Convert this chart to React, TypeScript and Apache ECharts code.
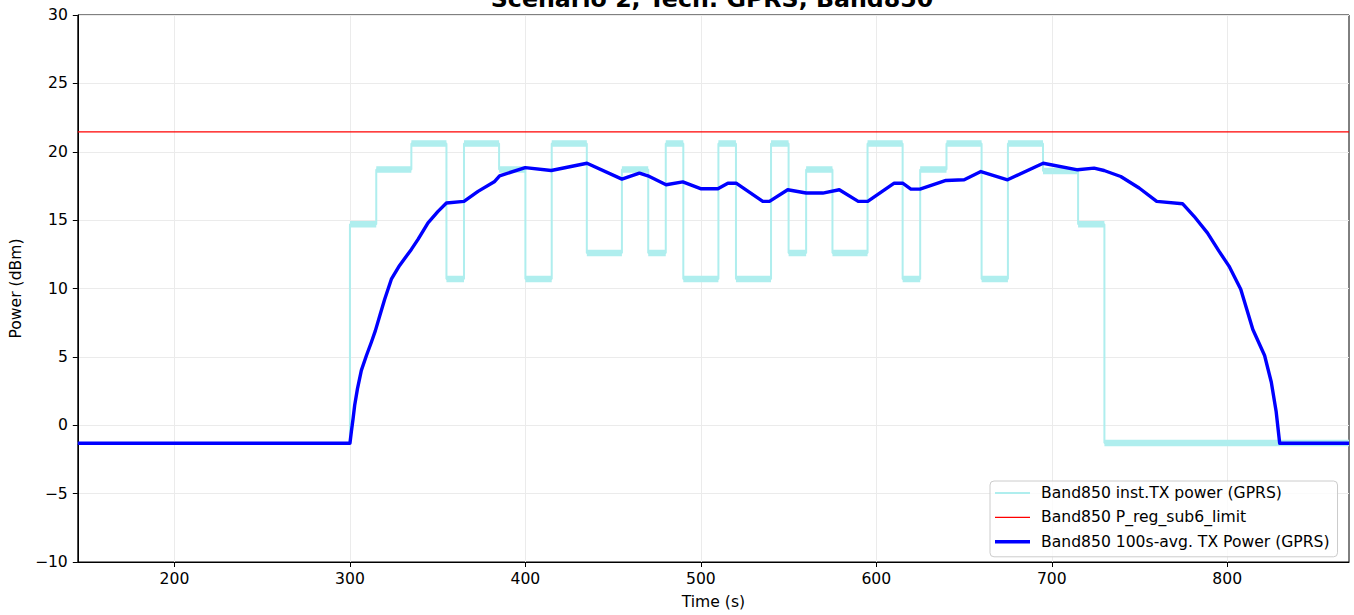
import React, { useEffect, useRef } from 'react';
import * as echarts from 'echarts';

const TITLE = 'Scenario 2, Tech: GPRS, Band850';
const X_NAME = 'Time (s)';
const Y_NAME = 'Power (dBm)';
const INST_NAME = 'Band850 inst.TX power (GPRS)';
const LIMIT_NAME = 'Band850 P_reg_sub6_limit';
const AVG_NAME = 'Band850 100s-avg. TX Power (GPRS)';

const X_MIN = 144.9;
const X_MAX = 869.4;
const X_TICKS = [200, 300, 400, 500, 600, 700, 800];
const Y_MIN = -10;
const Y_MAX = 30;
const Y_STEP = 5;

// instantaneous TX power: step edges (s) and the level (dBm) held between them
const STEP_EDGES = [144.9, 300, 315, 335, 355, 365, 385, 400, 415, 435, 455, 470, 480, 490, 510, 520, 540, 550, 560, 575, 595, 615, 625, 640, 660, 675, 695, 715, 730, 869.4];
const STEP_LEVELS = [-1.3, 14.7, 18.7, 20.6, 10.7, 20.6, 18.7, 10.7, 20.6, 12.6, 18.7, 12.6, 20.6, 10.7, 20.6, 10.7, 20.6, 12.6, 18.7, 12.6, 20.6, 10.7, 18.7, 20.6, 10.7, 20.6, 18.6, 14.7, -1.3];

const LIMIT_DBM = 21.45;

// 100 s average TX power
const AVG_TIMES = [144.9, 300, 300.8, 301.8, 302.7, 304.3, 306.5, 309.4, 312.2, 314.5, 317, 319.8, 323.6, 328.3, 335, 338.8, 344.5, 350.2, 355, 365, 373, 382.5, 385.3, 399.9, 414.7, 435.1, 455, 465, 469.8, 480.2, 489.7, 500.2, 509.7, 515.4, 520.1, 535.3, 539.1, 549.5, 560, 569.5, 578.9, 589.7, 595.1, 610.2, 615, 619.7, 624.9, 639.7, 650.1, 659.6, 674.8, 695.1, 714.7, 724.1, 729.8, 739.3, 749.8, 759.8, 774.5, 781.1, 788.7, 795.3, 801, 807.7, 814.6, 821.3, 825.1, 827.9, 829.9, 869.4];
const AVG_VALUES = [-1.32, -1.32, -0.47, 0.49, 1.46, 2.68, 4.01, 5.1, 6.07, 6.92, 8.0, 9.22, 10.68, 11.69, 12.86, 13.59, 14.8, 15.64, 16.25, 16.37, 17.1, 17.83, 18.24, 18.84, 18.63, 19.16, 18.0, 18.44, 18.24, 17.59, 17.8, 17.29, 17.29, 17.7, 17.7, 16.37, 16.37, 17.22, 16.98, 16.98, 17.22, 16.37, 16.37, 17.7, 17.7, 17.27, 17.27, 17.9, 17.95, 18.55, 17.95, 19.16, 18.68, 18.8, 18.63, 18.19, 17.35, 16.37, 16.2, 15.28, 14.07, 12.73, 11.64, 9.95, 7.0, 5.1, 3.16, 0.98, -1.32, -1.32];

const FONT = 'DejaVu Sans';
const FS = 15.6;
const fmtMinus = (v: number) => (v < 0 ? '\u2212' + Math.abs(v) : String(v));

export default function App() {
  const ref = useRef<HTMLDivElement>(null);
  useEffect(() => {
    if (!ref.current) return;
    const chart = echarts.init(ref.current, undefined, { renderer: 'svg' });

    const stepData: any[] = [];
    for (let i = 0; i < STEP_LEVELS.length; i++) {
      stepData.push([STEP_EDGES[i], STEP_LEVELS[i]]);
      stepData.push([STEP_EDGES[i + 1], STEP_LEVELS[i]]);
    }
    const bandData: any[] = [];
    for (let i = 1; i < STEP_LEVELS.length; i++) {
      bandData.push([STEP_EDGES[i], STEP_LEVELS[i]]);
      bandData.push([STEP_EDGES[i + 1], STEP_LEVELS[i]]);
      bandData.push([STEP_EDGES[i + 1], '-']);
    }
    const avgData = AVG_TIMES.map((t, i) => [t, AVG_VALUES[i]]);
    const limitData = [[X_MIN, LIMIT_DBM], [X_MAX, LIMIT_DBM]];

    const cyan = '#AFEEEE';
    chart.setOption({
      animation: false,
      textStyle: { fontFamily: FONT },
      grid: {
        left: 77, right: 5, top: 15, bottom: 50,
        show: true, borderColor: '#000', borderWidth: 1, backgroundColor: 'transparent',
      },
      graphic: [
        {
          type: 'text', x: 712, y: 11,
          style: { text: TITLE, fontFamily: FONT, fontWeight: 'bold', fontSize: 23.7, fill: '#000', textAlign: 'center', textVerticalAlign: 'bottom' },
          z: 100,
        },
      ],
      legend: {
        data: [
          { name: INST_NAME, icon: 'path://M0,0H35V2H0Z' },
          { name: LIMIT_NAME, icon: 'path://M0,0H35V1.3H0Z' },
          { name: AVG_NAME, icon: 'path://M0,0H35V3.4H0Z' },
        ],
        orient: 'vertical',
        left: 990, top: 481,
        padding: [4, 8, 7, 5],
        itemWidth: 35, itemHeight: 14, itemGap: 8.4,
        symbolKeepAspect: true,
        backgroundColor: 'rgba(255,255,255,0.8)',
        borderColor: '#cccccc', borderWidth: 1, borderRadius: 4,
        textStyle: { fontFamily: FONT, fontSize: FS, color: '#000', padding: [0, 0, 0, 6] },
      },
      xAxis: {
        type: 'value', min: X_MIN, max: X_MAX, splitNumber: 7,
        name: X_NAME, nameLocation: 'middle', nameGap: 32,
        nameTextStyle: { fontFamily: FONT, fontSize: FS, color: '#000' },
        axisLine: { onZero: false, lineStyle: { color: '#000', width: 1 } },
        axisTick: { show: true, length: 5, lineStyle: { color: '#000' }, customValues: X_TICKS },
        axisLabel: { margin: 9, fontFamily: FONT, fontSize: FS, color: '#000', customValues: X_TICKS, formatter: (v: number) => fmtMinus(v) },
        splitLine: { show: true, lineStyle: { color: '#ebebeb', width: 1 } },
      },
      yAxis: {
        type: 'value', min: Y_MIN, max: Y_MAX, interval: Y_STEP,
        name: Y_NAME, nameLocation: 'middle', nameGap: 50,
        nameTextStyle: { fontFamily: FONT, fontSize: FS, color: '#000' },
        axisLine: { show: true, onZero: false, lineStyle: { color: '#000', width: 1 } },
        axisTick: { show: true, length: 5, lineStyle: { color: '#000' } },
        axisLabel: { margin: 10, fontFamily: FONT, fontSize: FS, color: '#000', formatter: (v: number) => fmtMinus(v) },
        splitLine: { show: true, lineStyle: { color: '#ebebeb', width: 1 } },
      },
      series: [
        {
          name: INST_NAME, type: 'line', data: stepData, showSymbol: false, symbol: 'none',
          lineStyle: { color: cyan, width: 2 }, itemStyle: { color: cyan }, z: 2,
        },
        {
          name: 'band', type: 'line', data: bandData, showSymbol: false, symbol: 'none', connectNulls: false,
          lineStyle: { color: cyan, width: 6.5, cap: 'butt' }, itemStyle: { color: cyan }, z: 2,
        },
        {
          name: LIMIT_NAME, type: 'line', data: limitData, showSymbol: false, symbol: 'none',
          lineStyle: { color: '#ff0000', width: 1.3 }, itemStyle: { color: '#ff0000' }, z: 3,
        },
        {
          name: AVG_NAME, type: 'line', data: avgData, showSymbol: false, symbol: 'none',
          lineStyle: { color: '#0000ff', width: 3.4, join: 'round' }, itemStyle: { color: '#0000ff' }, z: 4,
        },
      ],
    });
    return () => chart.dispose();
  }, []);
  return <div ref={ref} style={{ position: 'fixed', left: 0, top: 0, width: 1354, height: 615, background: '#fff' }} />;
}
